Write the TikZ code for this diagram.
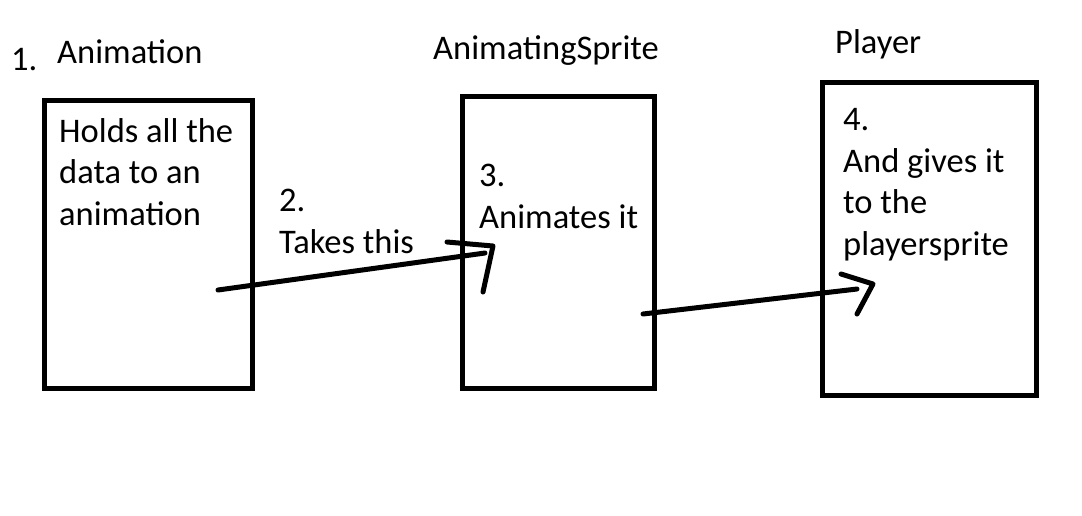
\documentclass[tikz,border=0pt]{standalone}
\usepackage{fontspec}
\setmainfont{Carlito}
\usetikzlibrary{positioning}

\begin{document}
\begin{tikzpicture}[x=1pt,y=-1pt,
  box/.style={draw,line width=5pt,inner sep=0pt},
  lbl/.style={anchor=base west,inner sep=0pt,align=left,font=\fontsize{34.5}{41.5}\selectfont},
  stroke/.style={line width=5pt,line cap=round,line join=round}]
\useasboundingbox[fill=white] (0,0) rectangle (1082,515);
% boxes
\node[box,minimum width=208pt,minimum height=288pt] (anim) at (148,244) {};
\node[box,minimum width=192pt,minimum height=292pt] (sprite) at (558,242) {};
\node[box,minimum width=214pt,minimum height=313pt] (player) at (929,238.5) {};
% titles
\node[lbl] (num1) at (11,70) {1.};
\node[lbl] (animtitle) at (57,63) {Animation};
\node[lbl] (spritetitle) at (433,59) {AnimatingSprite};
\node[lbl] (playertitle) at (835,53) {Player};
% texts (anchored at the last line)
\node[lbl] (animtext) at (59,225) {Holds all the\\data to an\\animation};
\node[lbl] (step2) at (279,253) {2.\\Takes this};
\node[lbl] (step3) at (479,228) {3.\\Animates it};
\node[lbl] (step4) at (843,255) {4.\\And gives it\\to the\\playersprite};
% arrows
\coordinate (a1s) at (218,290); \coordinate (a1e) at (485,253);
\coordinate (a2s) at (643,314); \coordinate (a2e) at (857,289);
\draw[stroke] (a1s) -- (a1e);
\draw[stroke] (447,242) -- (493,246) -- (483,292);
\draw[stroke] (a2s) -- (a2e);
\draw[stroke] (841,274) -- (873,284) -- (857,314);
\end{tikzpicture}
\end{document}
